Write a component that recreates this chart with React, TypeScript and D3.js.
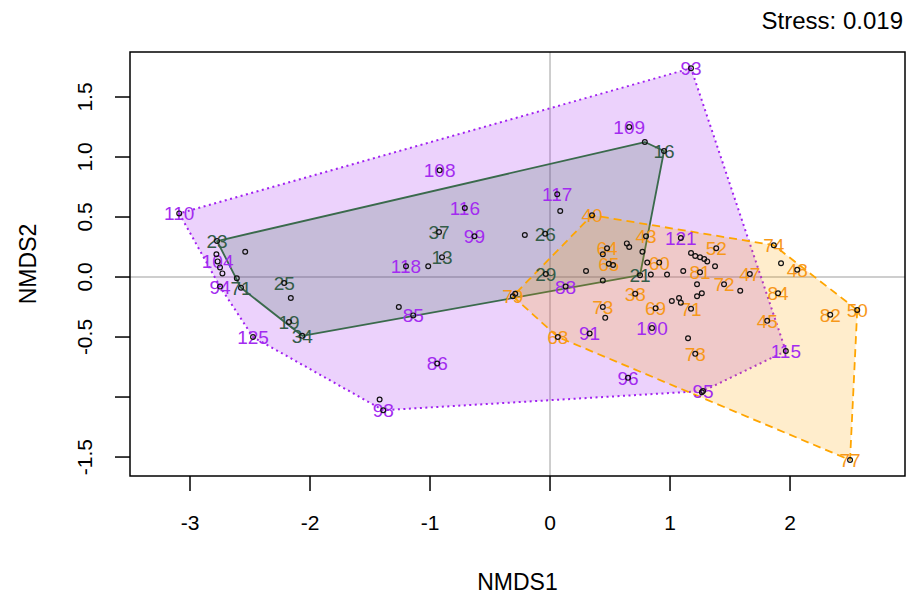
import React from 'react';
import * as d3 from 'd3';

// site scores: [label, NMDS1, NMDS2]  ('' = point without label)
const purpleSites: [string, number, number][] = [
  ['110', -3.09, 0.53], ['104', -2.77, 0.13], ['', -2.78, 0.19], ['', -2.75, 0.08],
  ['', -2.73, 0.03], ['94', -2.75, -0.08], ['125', -2.475, -0.5], ['98', -1.39, -1.11],
  ['', -1.42, -1.02], ['86', -0.94, -0.72], ['85', -1.14, -0.32], ['118', -1.2, 0.09],
  ['108', -0.92, 0.89], ['116', -0.71, 0.575], ['99', -0.63, 0.34], ['117', 0.06, 0.69],
  ['109', 0.66, 1.25], ['93', 1.175, 1.74], ['121', 1.09, 0.325], ['88', 0.13, -0.08],
  ['91', 0.33, -0.47], ['100', 0.85, -0.425], ['96', 0.65, -0.84], ['95', 1.275, -0.95],
  ['115', 1.965, -0.617], ['', 0.44, -0.03], ['', 0.975, 0.02],
];

const greenSites: [string, number, number][] = [
  ['23', -2.775, 0.3], ['', -2.54, 0.21], ['', -2.61, -0.01], ['71', -2.575, -0.09],
  ['25', -2.215, -0.05], ['', -2.16, -0.175], ['19', -2.175, -0.375], ['34', -2.065, -0.49],
  ['37', -0.925, 0.375], ['13', -0.9, 0.165], ['', -1.015, 0.09], ['', -1.26, -0.25],
  ['26', -0.04, 0.36], ['', -0.21, 0.35], ['29', -0.035, 0.025], ['', -0.29, -0.14],
  ['21', 0.75, 0.015], ['', 0.79, 1.125], ['16', 0.95, 1.05], ['', 0.085, 0.55],
  ['', 0.3, 0.05],
];

const orangeSites: [string, number, number][] = [
  ['79', -0.31, -0.16], ['40', 0.35, 0.515], ['43', 0.8, 0.34], ['', 0.77, 0.21],
  ['64', 0.475, 0.24], ['', 0.44, 0.19], ['', 0.64, 0.28], ['', 0.66, 0.25],
  ['65', 0.49, 0.11], ['', 0.525, 0.1], ['60', 0.91, 0.12], ['', 0.81, 0.12],
  ['', 0.84, 0.02], ['38', 0.71, -0.14], ['73', 0.44, -0.25], ['', 0.46, -0.34],
  ['69', 0.88, -0.26], ['', 1.015, -0.2], ['', 1.075, -0.175], ['', 1.09, -0.215],
  ['71', 1.175, -0.265], ['', 1.15, -0.51], ['78', 1.21, -0.64], ['68', 0.065, -0.5],
  ['', 1.265, -0.96], ['77', 2.5, -1.525], ['50', 2.56, -0.275], ['82', 2.335, -0.315],
  ['45', 1.81, -0.365], ['84', 1.9, -0.135], ['48', 2.06, 0.06], ['', 1.925, 0.115],
  ['74', 1.865, 0.265], ['47', 1.665, 0.025], ['', 1.585, -0.115], ['72', 1.45, -0.06],
  ['52', 1.385, 0.24], ['', 1.375, 0.09], ['', 1.175, 0.2], ['', 1.21, 0.175],
  ['', 1.25, 0.165], ['', 1.285, 0.15], ['', 1.31, 0.13], ['81', 1.25, 0.04],
  ['', 1.11, 0.05], ['', 1.225, -0.06], ['', 1.265, -0.135], ['', 1.225, -0.16],
];

const xTicks = [-3, -2, -1, 0, 1, 2];
const yTicks = [-1.5, -1.0, -0.5, 0.0, 0.5, 1.0, 1.5];
const yTickLabels = ['-1.5', '', '-0.5', '0.0', '0.5', '1.0', '1.5'];
const stressText = 'Stress: 0.019';

const groups = [
  { sites: purpleSites, line: '#A020F0', fill: 'rgba(160,32,240,0.2)', text: '#A32BF0', dash: '2,3.5', width: 2 },
  { sites: greenSites, line: '#3A6A4C', fill: 'rgba(51,102,80,0.2)', text: '#345C48', dash: null, width: 1.8 },
  { sites: orangeSites, line: '#FFA500', fill: 'rgba(255,165,0,0.2)', text: '#F7981A', dash: '8,5', width: 1.8 },
];

const font = "'Liberation Sans', Arial, sans-serif";

export default function App() {
  const left = 130, right = 905, top = 52, bottom = 476;
  const x = d3.scaleLinear().domain([-3.5, 2.958]).range([left, right]);
  const y = d3.scaleLinear().domain([-1.658, 1.875]).range([bottom, top]);

  return (
    <svg width={907} height={597} style={{ position: 'absolute', left: 0, top: 0 }} fontFamily={font}>
      <rect width={907} height={597} fill="#fff" />
      <defs>
        <clipPath id="plot">
          <rect x={left} y={top} width={right - left} height={bottom - top} />
        </clipPath>
      </defs>

      <g clipPath="url(#plot)">
        {/* zero lines */}
        <line x1={x(0)} x2={x(0)} y1={top} y2={bottom} stroke="#BEBEBE" strokeWidth={1.5} />
        <line x1={left} x2={right} y1={y(0)} y2={y(0)} stroke="#BEBEBE" strokeWidth={1.5} />

        {groups.map((g, i) => {
          const pts = g.sites.map(d => [x(d[1]), y(d[2])] as [number, number]);
          const hull = d3.polygonHull(pts) || [];
          const path = 'M' + hull.map(p => p.join(',')).join('L') + 'Z';
          return (
            <path key={i} d={path} fill={g.fill} stroke={g.line} strokeWidth={g.width}
              strokeDasharray={g.dash || undefined} strokeLinejoin="round" />
          );
        })}

        {groups.map((g, i) => (
          <g key={'t' + i} fill={g.text} fontSize={19} textAnchor="middle">
            {g.sites.filter(d => d[0] !== '').map((d, j) => (
              <text key={j} x={x(d[1])} y={y(d[2]) + 7}>{d[0]}</text>
            ))}
          </g>
        ))}

        {groups.map((g, i) => (
          <g key={'p' + i} fill="none" stroke="#111" strokeWidth={1.2}>
            {g.sites.map((d, j) => (
              <circle key={j} cx={x(d[1])} cy={y(d[2])} r={2.4} />
            ))}
          </g>
        ))}
      </g>

      {/* frame */}
      <rect x={left} y={top} width={right - left} height={bottom - top} fill="none" stroke="#000" strokeWidth={1.5} />

      {/* x axis */}
      <g fontSize={21} textAnchor="middle" fill="#000">
        {xTicks.map(t => (
          <g key={t}>
            <line x1={x(t)} x2={x(t)} y1={bottom} y2={bottom + 15} stroke="#000" strokeWidth={1.5} />
            <text x={x(t)} y={bottom + 54}>{t}</text>
          </g>
        ))}
      </g>

      {/* y axis */}
      <g fontSize={21} textAnchor="middle" fill="#000">
        {yTicks.map((t, i) => (
          <g key={t}>
            <line x1={left - 15} x2={left} y1={y(t)} y2={y(t)} stroke="#000" strokeWidth={1.5} />
            {yTickLabels[i] && (
              <text transform={`translate(${left - 38},${y(t)}) rotate(-90)`}>{yTickLabels[i]}</text>
            )}
          </g>
        ))}
      </g>

      <text x={(left + right) / 2} y={590} fontSize={23} textAnchor="middle">NMDS1</text>
      <text transform={`translate(36,${(top + bottom) / 2}) rotate(-90)`} fontSize={23} textAnchor="middle">NMDS2</text>
      <text x={903} y={29} fontSize={24} textAnchor="end">{stressText}</text>
    </svg>
  );
}
